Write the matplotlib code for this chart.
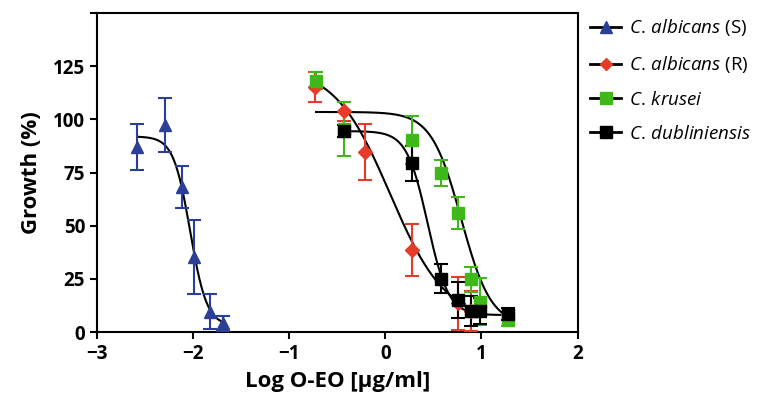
import numpy as np
import matplotlib.pyplot as plt

# data (log concentration, growth %, error)
sens_x = [-2.58, -2.29, -2.115, -1.99, -1.82, -1.69]
sens_y = [87, 97.3, 68.3, 35.4, 9.6, 4.2]
sens_err = [11, 12.7, 9.8, 17.4, 8.2, 3.5]

res_x = [-0.727, -0.425, -0.21, 0.28, 0.76, 0.89]
res_y = [115.3, 103.9, 84.6, 38.5, 13.5, 10]
res_err = [7, 4.5, 13.3, 12.2, 12.5, 9.5]

kru_x = [-0.72, -0.43, 0.28, 0.58, 0.76, 0.89, 0.985, 1.28]
kru_y = [118.1, 95.5, 90.2, 74.9, 56.1, 24.8, 14.3, 5.6]
kru_err = [4, 12.5, 11.3, 6, 7.5, 5.8, 11, 2.5]

dub_x = [-0.425, 0.28, 0.58, 0.76, 0.89, 0.985, 1.28]
dub_y = [94.6, 79.3, 25.2, 15, 10, 10, 8.5]
dub_err = [3, 8.2, 6.7, 8.6, 7, 6, 3]

# fitted 4-parameter logistic curves: bottom, top, logIC50, hill, x range
sens_fit = [3, 92, -2.03, 5.0, -2.58, -1.69]
res_fit = [5, 125, 0.05, 1.5, -0.73, 0.9]
kru_fit = [3, 103.5, 0.79, 2.8, -0.72, 1.28]
dub_fit = [8, 94.5, 0.44, 4.0, -0.43, 1.28]


def logistic(fit):
    bottom, top, c, h, x0, x1 = fit
    xs = np.linspace(x0, x1, 300)
    return xs, bottom + (top - bottom) / (1 + 10 ** ((xs - c) * h))


plt.rcParams['font.family'] = ['Open Sans', 'DejaVu Sans']
plt.rcParams['mathtext.fontset'] = 'custom'
plt.rcParams['mathtext.it'] = 'Open Sans:italic'
plt.rcParams['mathtext.rm'] = 'Open Sans'

fig = plt.figure(figsize=(7.69, 4.08), dpi=100)
ax = fig.add_axes([0.126, 0.186, 0.625, 0.782])

series = [
    ("S", sens_x, sens_y, sens_err, sens_fit, '#2b3f98', '^', 9),
    ("R", res_x, res_y, res_err, res_fit, '#e53b28', 'D', 7),
    ("K", kru_x, kru_y, kru_err, kru_fit, '#3fb81a', 's', 9),
    ("D", dub_x, dub_y, dub_err, dub_fit, '#000000', 's', 9),
]

for name, x, y, err, fit, col, mk, ms in series:
    xs, ys = logistic(fit)
    ax.plot(xs, ys, color='black', lw=1.5, zorder=2)
    ax.errorbar(x, y, yerr=err, fmt=mk, color=col, ms=ms, ecolor=col,
                elinewidth=1.5, capsize=5, capthick=1.5, zorder=3)

handles = []
labels = [r"$\it{C.\,albicans}$ (S)", r"$\it{C.\,albicans}$ (R)",
          r"$\it{C.\,krusei}$", r"$\it{C.\,dubliniensis}$"]
for name, x, y, err, fit, col, mk, ms in series:
    h, = ax.plot([], [], color='black', lw=2, marker=mk, mfc=col, mec=col,
                 ms=ms - 1)
    handles.append(h)

leg = ax.legend(handles, labels, loc='upper left', bbox_to_anchor=(0.99, 1.04),
                frameon=False, fontsize=13.5, handlelength=1.7,
                handletextpad=0.4, labelspacing=0.85)

ax.set_xlim(-3, 2)
ax.set_ylim(0, 150)
ax.set_xticks([-3, -2, -1, 0, 1, 2])
ax.set_yticks([0, 25, 50, 75, 100, 125, 150])
ax.set_yticklabels(['0', '25', '50', '75', '100', '125', ''])
for lab in ax.get_xticklabels() + ax.get_yticklabels():
    lab.set_fontweight('bold')
    lab.set_fontsize(13.5)
ax.tick_params(direction='out', width=1.5, length=5)
for sp in ax.spines.values():
    sp.set_linewidth(1.5)

ax.set_xlabel("Log O-EO [μg/ml]", fontsize=16, fontweight='bold', labelpad=5)
ax.set_ylabel("Growth (%)", fontsize=16, fontweight='bold', labelpad=8)

fig.savefig("out.png", dpi=100)
